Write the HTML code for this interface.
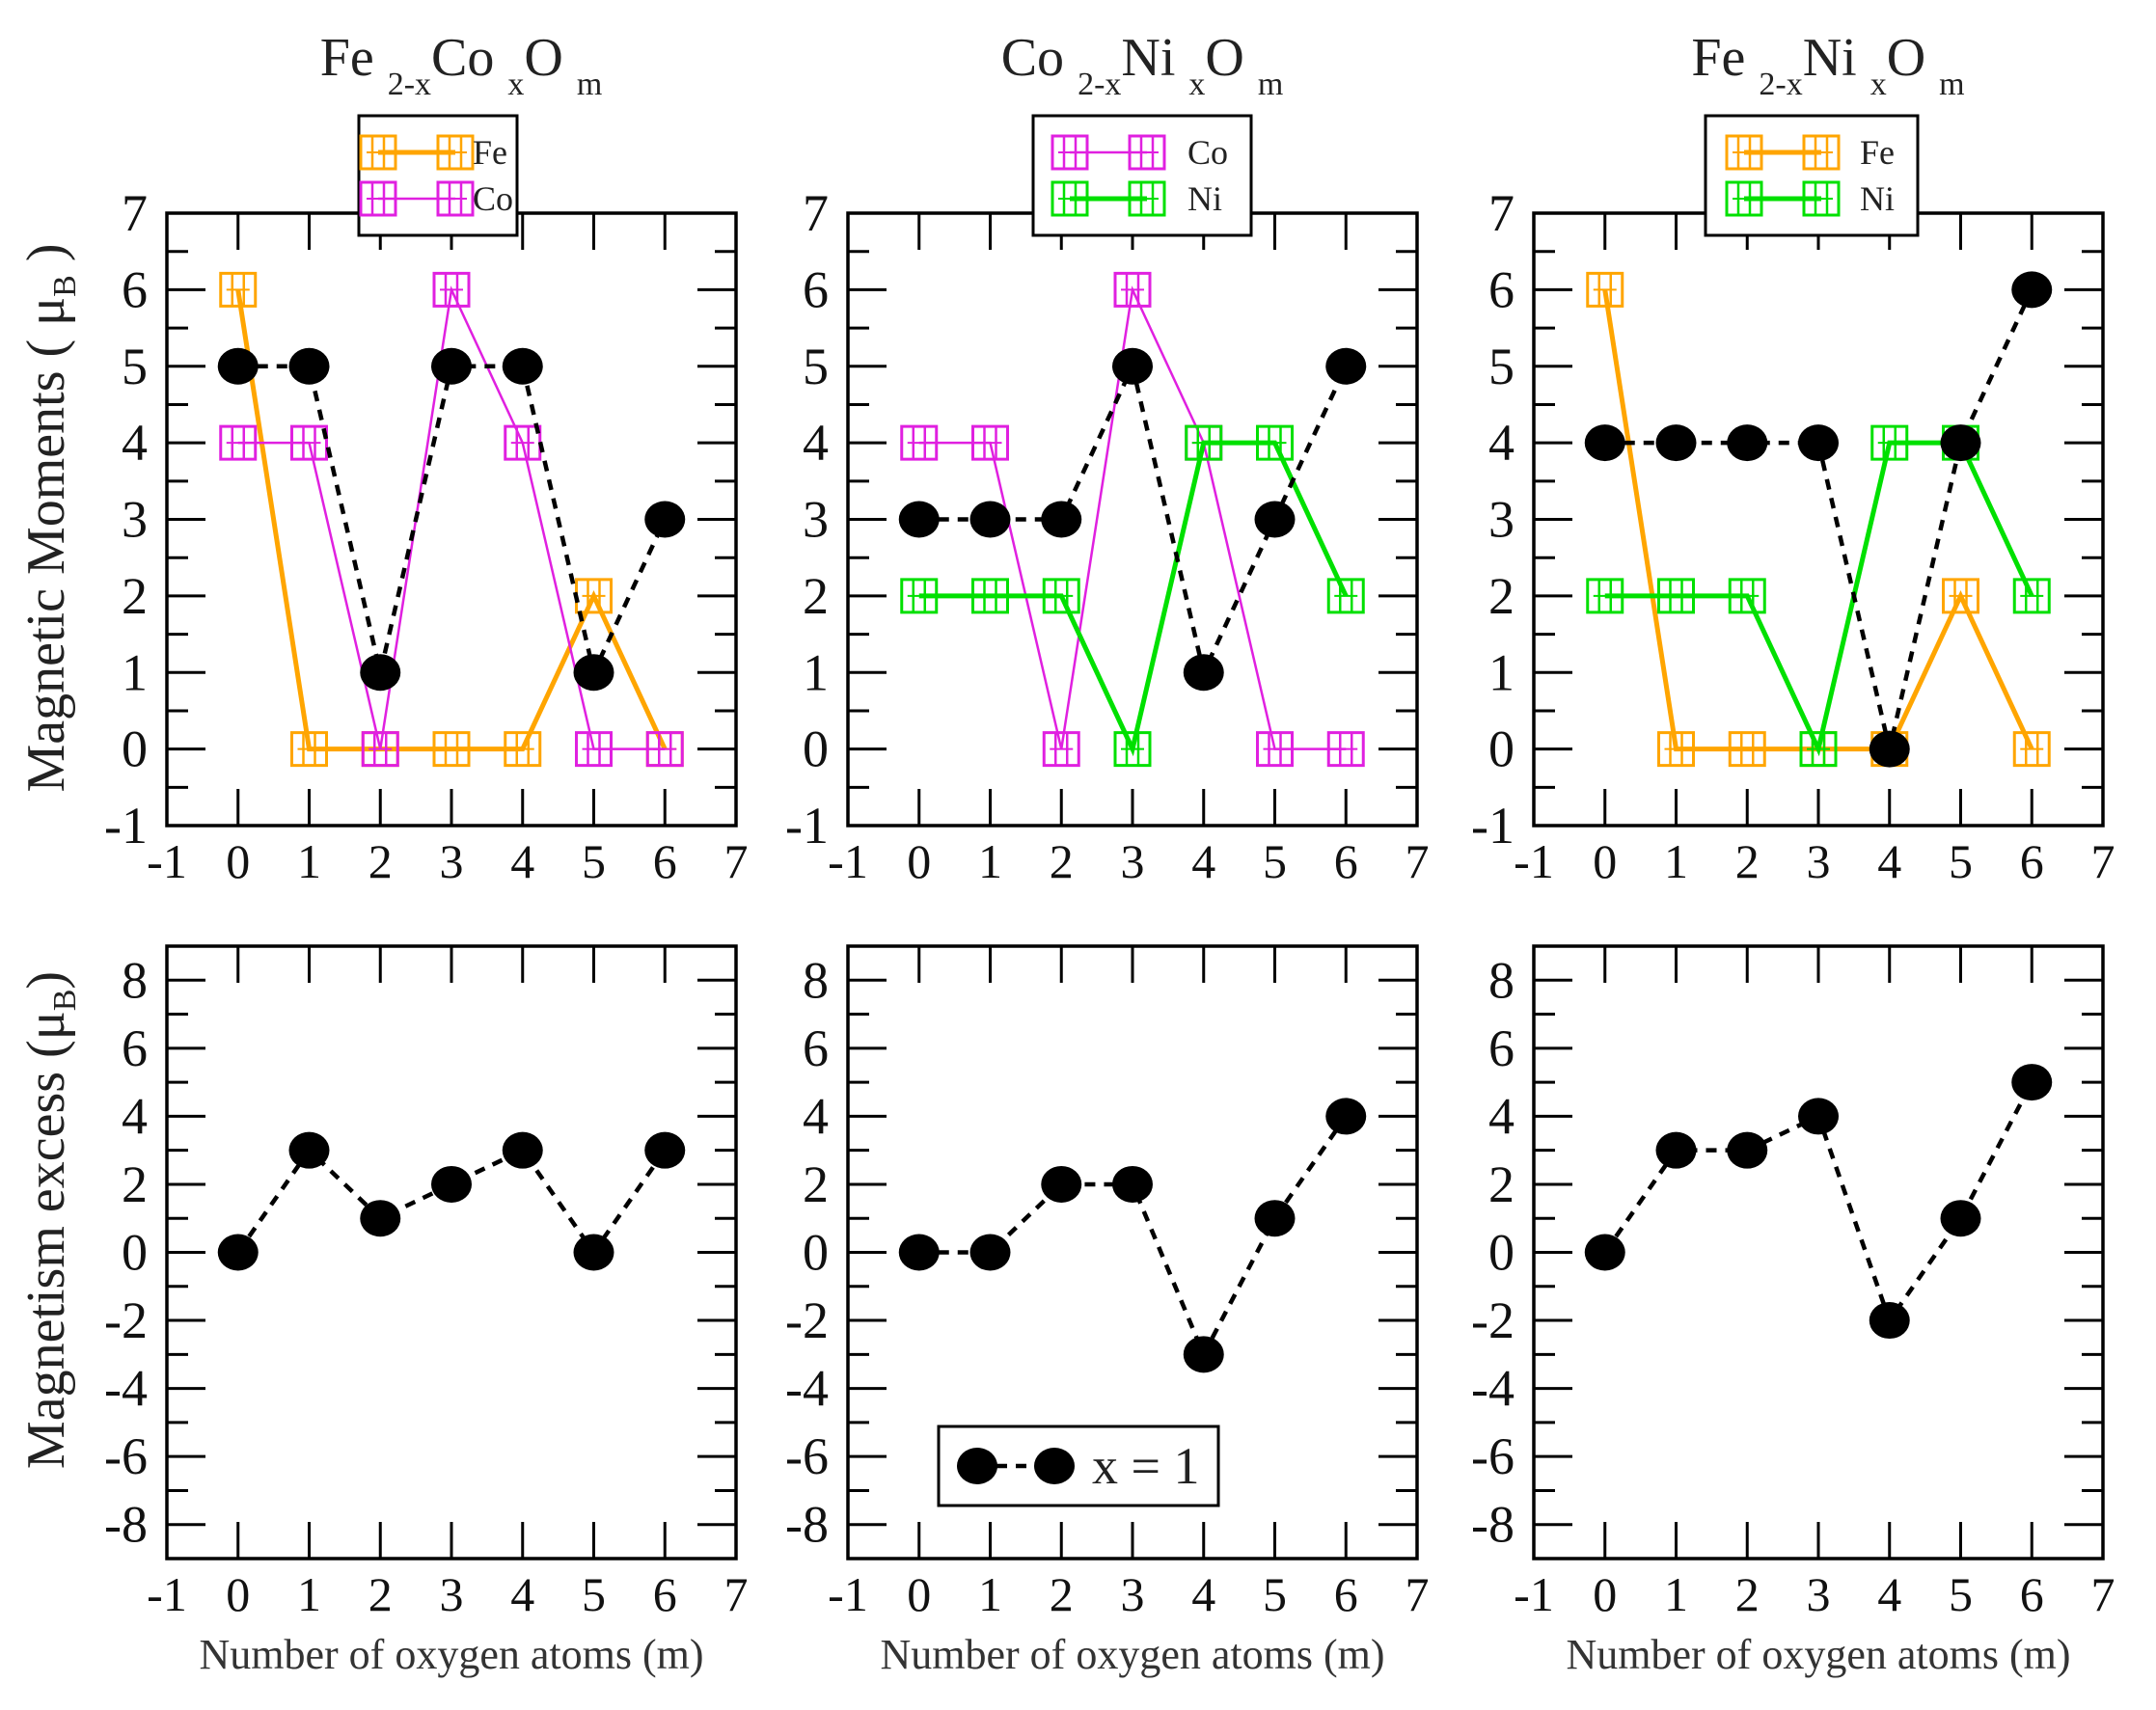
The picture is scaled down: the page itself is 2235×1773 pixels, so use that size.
<!DOCTYPE html>
<html><head><meta charset="utf-8">
<style>
html,body{margin:0;padding:0;background:#fff;}
svg, svg text{font-family:"Liberation Serif","DejaVu Serif",serif;}
</style></head>
<body>
<svg id="fig" xmlns="http://www.w3.org/2000/svg" width="2235" height="1768" viewBox="0 0 2235 1768" font-family="Liberation Serif, serif">
<rect x="0" y="0" width="2235" height="1768" fill="#fff"/>
</svg>
<script>
// ---- data ----
const mValues = [0,1,2,3,4,5,6];
const xTicks = [-1,0,1,2,3,4,5,6,7];
const yTicksTop = [-1,0,1,2,3,4,5,6,7];
const yTicksBottom = [-8,-6,-4,-2,0,2,4,6,8];
// panel 1: Fe2-xCoxOm
const p1Fe = [6,0,0,0,0,2,0];
const p1Co = [4,4,0,6,4,0,0];
const p1Total = [5,5,1,5,5,1,3];
const p1Excess = [0,3,1,2,3,0,3];
// panel 2: Co2-xNixOm
const p2Co = [4,4,0,6,4,0,0];
const p2Ni = [2,2,2,0,4,4,2];
const p2Total = [3,3,3,5,1,3,5];
const p2Excess = [0,0,2,2,-3,1,4];
// panel 3: Fe2-xNixOm
const p3Fe = [6,0,0,0,0,2,0];
const p3Ni = [2,2,2,0,4,4,2];
const p3Total = [4,4,4,4,0,4,6];
const p3Excess = [0,3,3,4,-2,1,5];

const NS = "http://www.w3.org/2000/svg";
const svg = document.getElementById('fig');
const ORANGE = "#ffa500", MAGENTA = "#e020e0", GREEN = "#00e000";
const FF = "Liberation Serif, DejaVu Serif, serif";
function mk(tag, attrs, parent){
  const e = document.createElementNS(NS, tag);
  for (const k in attrs) e.setAttribute(k, attrs[k]);
  if (tag === 'text') e.setAttribute('font-family', FF);
  (parent||svg).appendChild(e);
  return e;
}
const lefts = [173, 879, 1590];
const W = 590;
const TOP = {y0:221, y1:856, min:-1, max:7};
const BOT = {y0:981, y1:1616, min:-9, max:9};

function xs(L, v){ return L + (v - (-1)) / 8 * W; }
function ys(P, v){ return P.y1 - (v - P.min) / (P.max - P.min) * (P.y1 - P.y0); }

function drawAxes(L, P, yTicks, minorStep, g){
  for (const t of xTicks){
    if (t === -1 || t === 7) continue;
    const x = xs(L,t);
    const a = mk('line',{x1:x,y1:P.y1,x2:x,y2:P.y1-38,stroke:'#000','stroke-width':3},g);
     
    mk('line',{x1:x,y1:P.y0,x2:x,y2:P.y0+38,stroke:'#000','stroke-width':3},g);
  }
  for (const t of xTicks){
    const lab = mk('text',{x:xs(L,t),y:P.y1+54,'font-size':50,'text-anchor':'middle',fill:'#111'},g);
    lab.textContent = t;
     
  }
  for (let v = P.min+minorStep; v < P.max; v += minorStep){
    const y = ys(P,v);
    const major = yTicks.includes(v);
    const len = major ? 40 : 22;
    mk('line',{x1:L,y1:y,x2:L+len,y2:y,stroke:'#000','stroke-width':3},g);
    mk('line',{x1:L+W,y1:y,x2:L+W-len,y2:y,stroke:'#000','stroke-width':3},g);
  }
  for (const t of yTicks){
    const lab = mk('text',{x:L-20,y:ys(P,t)+18,'font-size':54,'text-anchor':'end',fill:'#111'},g);
    lab.textContent = t;
     
  }
  const fr = mk('rect',{x:L,y:P.y0,width:W,height:P.y1-P.y0,fill:'none',stroke:'#000','stroke-width':3.5},g);
   
}
function squareMarker(x,y,color,g){
  const m = mk('g',{},g);
   
  mk('rect',{x:x-18,y:y-17,width:36,height:34,fill:'none',stroke:color,'stroke-width':3},m);
  mk('line',{x1:x-6,y1:y-17,x2:x-6,y2:y+17,stroke:color,'stroke-width':2.5},m);
  mk('line',{x1:x+6,y1:y-17,x2:x+6,y2:y+17,stroke:color,'stroke-width':2.5},m);
  mk('line',{x1:x-12,y1:y,x2:x+12,y2:y,stroke:color,'stroke-width':2},m);
}
function series(L,P,vals,color,width,dash,kind,name,g){
  const sg = mk('g',{},g);
   
  const pts = vals.map((v,i)=>xs(L,mValues[i])+','+ys(P,v)).join(' ');
  const pl = mk('polyline',{points:pts,fill:'none',stroke:color,'stroke-width':width},sg);
  if (dash) pl.setAttribute('stroke-dasharray',dash);
  vals.forEach((v,i)=>{
    const x = xs(L,mValues[i]), y = ys(P,v);
    if (kind==='circle'){
      const c = mk('ellipse',{cx:x,cy:y,rx:21,ry:19,fill:'#000'},sg);
       
    } else squareMarker(x,y,color,sg);
  });
}
function legend(x,y,w,h,rows,g){
  const lg = mk('g',{},g);
   
  mk('rect',{x:x,y:y,width:w,height:h,fill:'#fff',stroke:'#000','stroke-width':3},lg);
  rows.forEach((r,i)=>{
    const cy = y+38+i*48;
    const e = mk('g',{},lg);
     
    mk('line',{x1:x+r.m1,y1:cy,x2:x+r.m2,y2:cy,stroke:r.color,'stroke-width':r.w},e);
    squareMarker(x+r.m1,cy,r.color,e);
    squareMarker(x+r.m2,cy,r.color,e);
    const t = mk('text',{x:x+r.tx,y:cy+12,'font-size':36,fill:'#222'},e);
    t.textContent = r.label;
  });
}
function title(cx, parts, g){
  const t = mk('text',{x:cx,y:78,'text-anchor':'middle','font-size':56,fill:'#222'},g);
   
  parts.forEach(p=>{
    const s = mk('tspan',{},t);
    s.textContent = p[0];
    if (p[1]){ s.setAttribute('font-size',34); s.setAttribute('dy',20);} 
    else if (p[2]) { s.setAttribute('dy',-20); }
  });
}

const panels = [
  {L:lefts[0], top:[[p1Fe,ORANGE,5,'fe-series'],[p1Co,MAGENTA,2.5,'co-series']], tot:p1Total, exc:p1Excess,
   title:[['Fe '],['2-x',1],['Co ',0,1],['x',1],['O ',0,1],['m',1]],
   leg:{x:372,y:120,w:164,h:124,rows:[{color:ORANGE,w:5,label:'Fe',m1:20,m2:100,tx:118},{color:MAGENTA,w:2.5,label:'Co',m1:20,m2:100,tx:118}]}},
  {L:lefts[1], top:[[p2Co,MAGENTA,2.5,'co-series'],[p2Ni,GREEN,5,'ni-series']], tot:p2Total, exc:p2Excess,
   title:[['Co '],['2-x',1],['Ni ',0,1],['x',1],['O ',0,1],['m',1]],
   leg:{x:1071,y:120,w:226,h:124,rows:[{color:MAGENTA,w:2.5,label:'Co',m1:38,m2:118,tx:160},{color:GREEN,w:5,label:'Ni',m1:38,m2:118,tx:160}]}},
  {L:lefts[2], top:[[p3Fe,ORANGE,5,'fe-series'],[p3Ni,GREEN,5,'ni-series']], tot:p3Total, exc:p3Excess,
   title:[['Fe '],['2-x',1],['Ni ',0,1],['x',1],['O ',0,1],['m',1]],
   leg:{x:1768,y:120,w:220,h:124,rows:[{color:ORANGE,w:5,label:'Fe',m1:40,m2:120,tx:160},{color:GREEN,w:5,label:'Ni',m1:40,m2:120,tx:160}]}}
];
panels.forEach((p,i)=>{
  const gt = mk('g',{});
   
  drawAxes(p.L, TOP, yTicksTop, 0.5, gt);
  p.top.forEach(s=>series(p.L, TOP, s[0], s[1], s[2], null, 'square', s[3], gt));
  series(p.L, TOP, p.tot, '#000', 4.5, '11 9', 'circle', 'total-series', gt);
  title(p.L+W/2+10, p.title, gt);
  legend(p.leg.x,p.leg.y,p.leg.w,p.leg.h,p.leg.rows,gt);

  const gb = mk('g',{});
   
  drawAxes(p.L, BOT, yTicksBottom, 1, gb);
  series(p.L, BOT, p.exc, '#000', 4.5, '11 9', 'circle', 'excess-series', gb);
  const xl = mk('text',{x:p.L+W/2,y:1730,'text-anchor':'middle','font-size':44,fill:'#333'},gb);
  xl.textContent = 'Number of oxygen atoms (m)';
   
});

const lg2 = mk('g',{});
 
mk('rect',{x:973,y:1479,width:290,height:82,fill:'#fff',stroke:'#000','stroke-width':3},lg2);
mk('line',{x1:1013,y1:1520,x2:1093,y2:1520,stroke:'#000','stroke-width':4.5,'stroke-dasharray':'11 9'},lg2);
mk('ellipse',{cx:1013,cy:1520,rx:21,ry:19,fill:'#000'},lg2);
mk('ellipse',{cx:1093,cy:1520,rx:21,ry:19,fill:'#000'},lg2);
const lt = mk('text',{x:1132,y:1538,'font-size':54,fill:'#222'},lg2);
lt.textContent = 'x = 1';

const yt1 = mk('text',{x:0,y:0,'font-size':56,'text-anchor':'middle',fill:'#222',transform:'translate(66,537) rotate(-90)'});
 
yt1.innerHTML = 'Magnetic Moments ( μ<tspan font-size="34" dy="12">B</tspan><tspan dy="-12"> )</tspan>';
const yt2 = mk('text',{x:0,y:0,'font-size':56,'text-anchor':'middle',fill:'#222',transform:'translate(66,1265) rotate(-90)'});
 
yt2.innerHTML = 'Magnetism excess (μ<tspan font-size="34" dy="12">B</tspan><tspan dy="-12">)</tspan>';
</script>
</body></html>
